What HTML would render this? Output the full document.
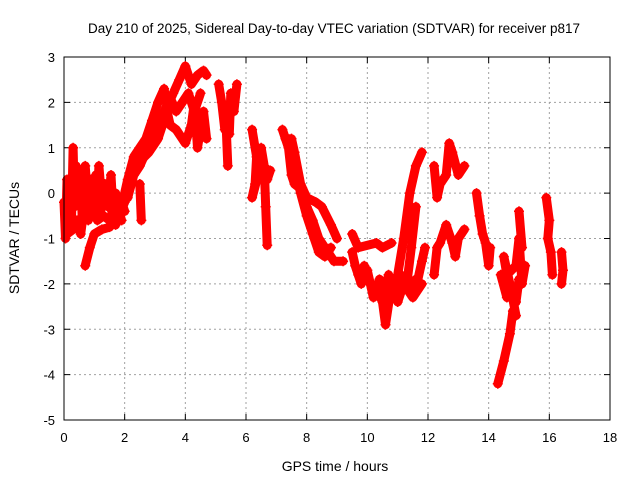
<!DOCTYPE html>
<html><head><meta charset="utf-8"><style>
body{margin:0;background:#fff;}
svg{display:block;font-family:"Liberation Sans",sans-serif;}
</style></head><body>
<svg id="chart" width="640" height="480" viewBox="0 0 640 480">
<text x="334" y="33" font-size="13.5" text-anchor="middle">Day 210 of 2025, Sidereal Day-to-day VTEC variation (SDTVAR) for receiver p817</text>
<text transform="translate(19,238) rotate(-90)" font-size="14" text-anchor="middle">SDTVAR / TECUs</text>
<text x="335" y="471" font-size="14" text-anchor="middle">GPS time / hours</text>
<g id="grid"></g>
<g id="ticks"></g>
<g id="series"></g>
<rect x="64" y="57" width="546" height="363" fill="none" stroke="#000" stroke-width="1"/>
</svg>
<script>
const xTicks=[0,2,4,6,8,10,12,14,16,18];
const yTicks=[3,2,1,0,-1,-2,-3,-4,-5];
const trackEarly=[[0,-0.2],[0.05,-1],[0.1,0.3],[0.15,-0.8],[0.2,0.2],[0.25,-0.5],[0.3,1.0],[0.35,-0.3],[0.4,0.6],[0.5,-0.2],[0.55,0.5],[0.6,-0.6],[0.7,0.6],[0.8,-0.3],[0.9,0.3],[1.0,-0.5],[1.05,0.4],[1.1,-0.2],[1.15,0.6],[1.25,-0.2],[1.35,0.2],[1.45,-0.3],[1.55,0.4],[1.6,-0.2],[1.7,0.0],[1.8,-0.5],[1.9,-0.2],[2.0,-0.4]];
const trackEarly2=[[0.05,-0.6],[0.2,-0.4],[0.3,-0.1],[0.45,0.1],[0.6,0.0],[0.75,0.2],[0.9,-0.1],[1.0,0.1],[1.2,-0.4],[1.3,-0.1],[1.45,0.1],[1.6,-0.5],[1.75,-0.3],[1.9,-0.6]];
const trackEarly3=[[0.1,-0.9],[0.3,-0.8],[0.45,-0.6],[0.55,-0.9],[0.65,-0.4],[0.8,-0.6],[0.95,-0.3],[1.1,-0.6],[1.3,-0.5],[1.5,-0.6],[1.7,-0.7]];
const trackLow=[[0.7,-1.6],[0.85,-1.2],[1.0,-0.9],[1.25,-0.8],[1.5,-0.75],[1.8,-0.5],[2.0,-0.2]];
const trackClimb=[[1.9,-0.3],[2.1,0.3],[2.3,0.8],[2.5,1.0],[2.7,1.2],[2.9,1.6],[3.1,2.0],[3.3,2.3],[3.4,1.9],[3.6,2.2],[3.8,2.5],[4.0,2.8],[4.2,2.4],[4.4,2.6],[4.6,2.7],[4.7,2.6]];
const trackClimb2=[[2.1,-0.1],[2.3,0.4],[2.5,0.6],[2.7,0.9],[2.9,1.2],[3.1,1.5],[3.3,1.8],[3.5,2.1],[3.7,1.8],[3.9,2.0],[4.1,2.2],[4.3,1.8],[4.5,2.2]];
const trackLowerBranch=[[2.5,0.7],[2.8,0.9],[3.1,1.2],[3.4,1.8],[3.5,1.5],[3.7,1.4],[4.0,1.1],[4.2,1.5],[4.3,2.0],[4.4,1.0],[4.6,1.8],[4.7,1.2]];
const trackDawn=[[5.1,2.4],[5.2,2.0],[5.3,1.4],[5.45,1.3],[5.5,2.2],[5.6,1.8],[5.7,2.4]];
const trackSpikeA=[[2.5,0.2],[2.55,-0.6]];
const trackSpikeB=[[5.35,1.4],[5.4,0.6]];
const trackF=[[6.2,1.4],[6.35,0.8],[6.3,0.2],[6.2,-0.1],[6.4,0.4],[6.5,1.0],[6.6,0.6],[6.7,0.3],[6.8,0.5]];
const trackFspike=[[6.6,0.6],[6.65,-0.3],[6.7,-1.15]];
const trackG=[[7.2,1.4],[7.4,1.0],[7.5,0.4],[7.6,0.2],[7.8,0.1],[8.0,-0.3],[8.2,-0.6],[8.4,-1.0],[8.6,-1.2],[8.9,-1.5],[9.2,-1.5]];
const trackGupper=[[7.3,1.2],[7.5,1.2],[7.6,0.9],[7.8,0.2],[8.0,-0.1],[8.3,-0.2],[8.5,-0.3],[8.8,-0.7],[9.0,-1.0]];
const trackG2=[[7.6,0.6],[7.8,0.0],[8.0,-0.5],[8.2,-0.9],[8.4,-1.3],[8.6,-1.4],[8.8,-1.2]];
const trackH=[[9.5,-1.3],[9.6,-1.6],[9.8,-2.0],[10.0,-1.7],[10.2,-2.3],[10.4,-1.9],[10.6,-2.9],[10.8,-2.0],[11.0,-2.4],[11.2,-2.0],[11.5,-2.3],[11.8,-2.0]];
const trackH2=[[9.7,-1.8],[9.9,-1.6],[10.1,-2.0],[10.3,-2.1],[10.5,-2.4],[10.7,-1.8],[10.9,-2.1],[11.1,-1.8],[11.3,-2.1],[11.6,-1.9]];
const trackHbranch=[[9.5,-0.9],[9.7,-1.2],[10.3,-1.1],[10.5,-1.2],[10.8,-1.1]];
const trackRise1=[[11.0,-1.8],[11.2,-1.0],[11.4,0.0],[11.6,0.6],[11.8,0.9]];
const trackRise2=[[11.3,-2.0],[11.45,-1.2],[11.6,-0.3]];
const trackRise3=[[11.6,-2.1],[11.8,-1.5],[11.9,-1.2]];
const trackI=[[12.2,0.6],[12.3,-0.1],[12.4,0.2],[12.6,0.4],[12.7,1.1],[12.8,0.9],[13.0,0.4],[13.2,0.6]];
const trackImid=[[12.2,-1.8],[12.3,-1.2],[12.4,-1.1],[12.6,-0.7],[12.8,-1.1],[12.9,-1.4],[13.0,-1.0],[13.2,-0.8]];
const trackJ=[[13.6,0.0],[13.7,-0.5],[13.8,-0.9],[13.9,-1.1],[14.0,-1.6],[14.05,-1.2]];
const trackK=[[14.3,-4.2],[14.5,-3.7],[14.7,-3.1],[14.8,-2.6],[14.9,-2.7],[14.7,-2.0],[14.5,-1.4],[14.6,-1.8],[14.9,-1.6],[15.0,-1.0],[15.1,-2.0],[15.2,-1.6]];
const trackK2=[[14.4,-1.8],[14.6,-2.3],[14.8,-2.1],[14.9,-2.4],[15.0,-1.9]];
const trackKspike=[[15.0,-0.4],[15.1,-1.2]];
const trackL=[[15.9,-0.1],[16.0,-0.6],[15.95,-1.0],[16.05,-1.3],[16.1,-1.8]];
const trackM=[[16.4,-1.3],[16.45,-1.7],[16.4,-2.0]];
const allTracks=[trackEarly,trackEarly2,trackEarly3,trackLow,trackClimb,trackClimb2,trackLowerBranch,trackDawn,trackSpikeA,trackSpikeB,trackF,trackFspike,trackG,trackGupper,trackG2,trackH,trackH2,trackHbranch,trackRise1,trackRise2,trackRise3,trackI,trackImid,trackJ,trackK,trackK2,trackKspike,trackL,trackM];

const NS='http://www.w3.org/2000/svg';
const X0=64,X1=610,Y0=420,Y1=57;
function sx(t){return X0+(t-0)/(18-0)*(X1-X0);}
function sy(v){return Y0-(v-(-5))/(3-(-5))*(Y0-Y1);}
function mk(tag,attrs,parent){const e=document.createElementNS(NS,tag);for(const k in attrs)e.setAttribute(k,attrs[k]);parent.appendChild(e);return e;}
const grid=document.getElementById('grid'),ticks=document.getElementById('ticks'),series=document.getElementById('series');
xTicks.forEach(t=>{
  const x=sx(t);
  if(t>0&&t<18){const g=mk('line',{x1:x,y1:Y1,x2:x,y2:Y0,stroke:'#a0a0a0','stroke-dasharray':'2,3'},grid);
  
  }
  const tk=mk('path',{d:`M${x},${Y0}v-6M${x},${Y1}v6`,stroke:'#000'},ticks);
  
  
  const l=mk('text',{x:x,y:Y0+22,'font-size':'13','text-anchor':'middle'},ticks);
  l.textContent=t;
  
  
});
yTicks.forEach(v=>{
  const y=sy(v);
  if(v>-5&&v<3){const g=mk('line',{x1:X0,y1:y,x2:X1,y2:y,stroke:'#a0a0a0','stroke-dasharray':'2,3'},grid);
  
  }
  const tk=mk('path',{d:`M${X0},${y}h6M${X1},${y}h-6`,stroke:'#000'},ticks);
  
  
  const l=mk('text',{x:X0-9,y:y+5,'font-size':'13','text-anchor':'end'},ticks);
  l.textContent=v;
  
  
});
allTracks.forEach(tr=>{
  const d=tr.map((p,i)=>(i?'L':'M')+sx(p[0]).toFixed(1)+','+sy(p[1]).toFixed(1)).join('');
  const pl=mk('path',{d:d,fill:'none',stroke:'#ff0000','stroke-width':'9','stroke-linejoin':'round','stroke-linecap':'round'},series);
  
  
  tr.forEach(p=>{
    const x=sx(p[0]),y=sy(p[1]);
    const m=mk('path',{d:`M${x-5},${y}h10M${x},${y-5}v10`,stroke:'#ff0000','stroke-width':'1.5'},series);
    
    
  });
});
</script>
</body></html>
